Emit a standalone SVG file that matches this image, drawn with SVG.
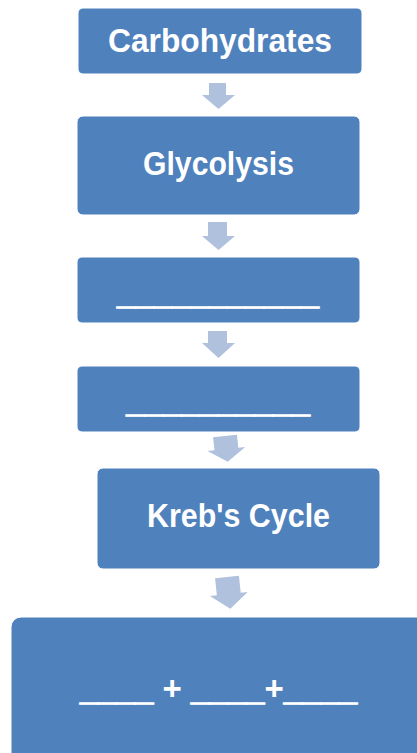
<svg xmlns="http://www.w3.org/2000/svg" width="417" height="753" viewBox="0 0 417 753">
<style>
.box{fill:#4F81BD;stroke:#FFFFFF;stroke-width:1}
.arr{fill:#B0C1DE}
.t{font-family:"Liberation Sans",Arial,sans-serif;font-weight:bold;font-size:33px;fill:#FFFFFF;text-anchor:middle}
.u{stroke:#FFFFFF;stroke-width:1.3}
</style>
<rect width="417" height="753" fill="#FFFFFF"/>
<g id="connectors">
<polygon class="arr" points="209,83 226,83 226,95 235,95 218.5,109 202,95 209,95"/>
<polygon class="arr" points="208,222 227,222 227,236 235,236 218.5,250 202,236 208,236"/>
<polygon class="arr" points="208,331 227,331 227,343 235,343 218.5,358 202,343 208,343"/>
<polygon class="arr" points="-12,0 12,0 12,13 19,13 0,26 -19,13 -12,13" transform="translate(225,436) rotate(-6)"/>
<polygon class="arr" points="-12,0 12,0 12,17 19,17 0,32 -19,17 -12,17" transform="translate(227,577) rotate(-6)"/>
</g>
<g id="carbohydrates">
<rect class="box" x="78" y="8" width="284" height="66" rx="5"/>
<text class="t" x="220" y="52" textLength="224" lengthAdjust="spacingAndGlyphs">Carbohydrates</text>
</g>
<g id="glycolysis">
<rect class="box" x="77" y="116" width="283" height="99" rx="6"/>
<text class="t" x="218.5" y="175" textLength="151" lengthAdjust="spacingAndGlyphs">Glycolysis</text>
</g>
<g id="blank1">
<rect class="box" x="77" y="257" width="283" height="66" rx="5"/>
<text class="t u" x="218" y="304">___________</text>
</g>
<g id="blank2">
<rect class="box" x="77" y="366" width="283" height="66" rx="5"/>
<text class="t u" x="218" y="412">__________</text>
</g>
<g id="krebs-cycle">
<rect class="box" x="97" y="468" width="283" height="101" rx="6"/>
<text class="t" x="238.5" y="527" textLength="183" lengthAdjust="spacingAndGlyphs">Kreb's Cycle</text>
</g>
<g id="products">
<rect class="box" x="11" y="617" width="420" height="150" rx="10"/>
<text class="t" x="218.5" y="700" xml:space="preserve"><tspan class="u">____</tspan> + <tspan class="u">____</tspan>+<tspan class="u">____</tspan></text>
</g>
</svg>
